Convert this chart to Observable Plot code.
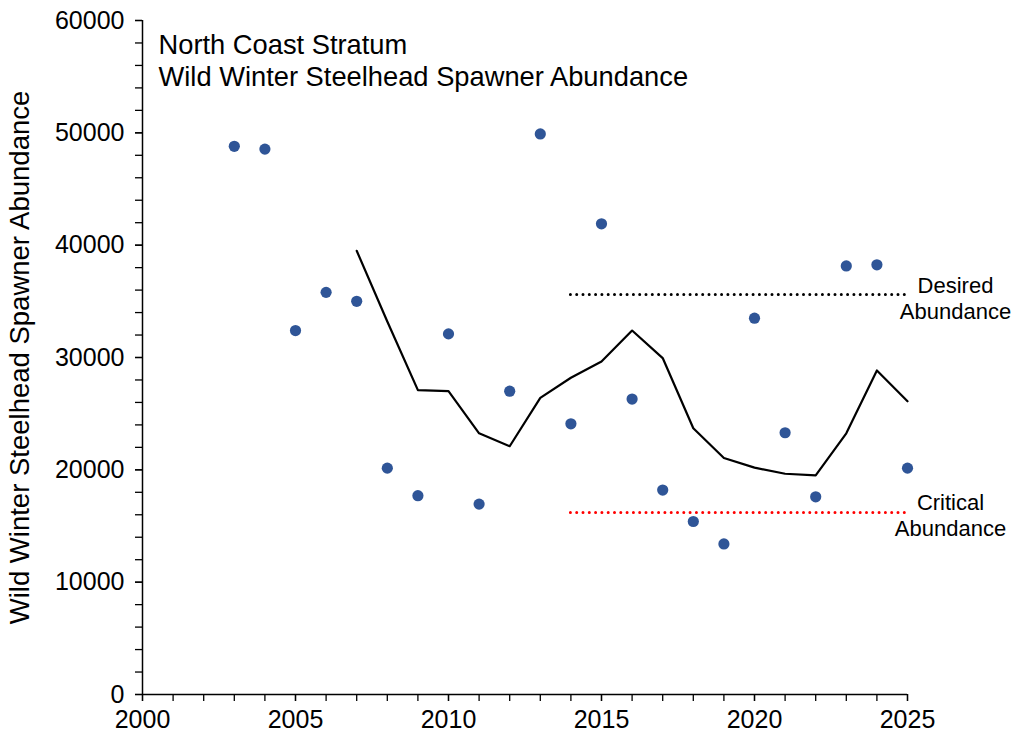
<!DOCTYPE html>
<html>
<head>
<meta charset="utf-8">
<script src="https://cdn.jsdelivr.net/npm/d3@7"></script>
<script src="https://cdn.jsdelivr.net/npm/@observablehq/plot@0.6"></script>
<style>
  html, body { margin: 0; padding: 0; background: #fff; }
  #chart svg { display: block; }
</style>
</head>
<body>
<div id="chart"></div>
<script>
// Data
const years = [2003, 2004, 2005, 2006, 2007, 2008, 2009, 2010, 2011, 2012, 2013, 2014,
               2015, 2016, 2017, 2018, 2019, 2020, 2021, 2022, 2023, 2024, 2025];
const abundance = [48800, 48550, 32400, 35800, 35000, 20150, 17700, 32100, 16950, 27000, 49900, 24100,
                   41900, 26300, 18200, 15400, 13400, 33500, 23300, 17600, 38150, 38250, 20150];

const avgYears = [2007, 2008, 2009, 2010, 2011, 2012, 2013, 2014, 2015, 2016, 2017, 2018,
                  2019, 2020, 2021, 2022, 2023, 2024, 2025];
const avgValues = [39500, 33200, 27100, 27000, 23250, 22100, 26400, 28200, 29650, 32400, 29950, 23700,
                   21050, 20200, 19650, 19500, 23250, 28850, 26100];

const desiredLevel = 35600;
const criticalLevel = 16200;
const refStart = 2014;
const refEnd = 2025;

const xMajorTicks = [2000, 2005, 2010, 2015, 2020, 2025];
const xMinorTicks = d3.range(2000, 2026, 1);
const yMajorTicks = [0, 10000, 20000, 30000, 40000, 50000, 60000];
const yMinorTicks = d3.range(0, 60001, 2000);

const titleLines = "North Coast Stratum\nWild Winter Steelhead Spawner Abundance";
const yLabel = "Wild Winter Steelhead Spawner Abundance";
const desiredLabel = "Desired\nAbundance";
const criticalLabel = "Critical\nAbundance";

const points = years.map((y, i) => ({year: y, value: abundance[i]}));
const avg = avgYears.map((y, i) => ({year: y, value: avgValues[i]}));

const chart = Plot.plot({
  width: 1013,
  height: 741,
  marginLeft: 142,
  marginRight: 106,
  marginTop: 20,
  marginBottom: 47,
  style: {fontFamily: "'Liberation Sans', Arial, sans-serif", fontSize: "25px", color: "#000", background: "#fff"},
  x: {domain: [2000, 2025]},
  y: {domain: [0, 60000]},
  marks: [
    // minor ticks
    Plot.axisX({ticks: xMinorTicks, tickSize: 7, text: null, strokeWidth: 1.3, label: null}),
    Plot.axisY({ticks: yMinorTicks, tickSize: 7, text: null, strokeWidth: 1.3, label: null}),
    // major ticks + labels
    Plot.axisX({ticks: xMajorTicks, tickSize: 7, tickPadding: 9, tickFormat: d => String(d), strokeWidth: 1.3, fontSize: 25, label: null}),
    Plot.axisY({ticks: yMajorTicks, tickSize: 7, tickPadding: 11, tickFormat: d => String(d), strokeWidth: 1.3, fontSize: 25,
      label: null}),
    Plot.axisY({ticks: [], tickSize: 0, text: null, fontSize: 27.5,
      label: yLabel, labelAnchor: "center", labelArrow: "none", labelOffset: 133}),
    // axis lines
    Plot.ruleX([2000], {stroke: "#000", strokeWidth: 1.5}),
    Plot.ruleY([0], {stroke: "#000", strokeWidth: 1.5}),
    // reference levels
    Plot.ruleY([desiredLevel], {x1: refStart, x2: refEnd, stroke: "#000", strokeWidth: 3,
      strokeDasharray: "0 6.3", strokeLinecap: "round"}),
    Plot.ruleY([criticalLevel], {x1: refStart, x2: refEnd, stroke: "#ff0000", strokeWidth: 3,
      strokeDasharray: "0 6.3", strokeLinecap: "round"}),
    Plot.text([desiredLevel], {x: refEnd, y: d => d, text: [desiredLabel], dx: 48, dy: 3, fill: "#000",
      fontSize: 22, lineHeight: 1.18, textAnchor: "middle", lineAnchor: "middle"}),
    Plot.text([criticalLevel], {x: refEnd, y: d => d, text: [criticalLabel], dx: 43, dy: 2, fill: "#000",
      fontSize: 22, lineHeight: 1.18, textAnchor: "middle", lineAnchor: "middle"}),
    // running average line
    Plot.line(avg, {x: "year", y: "value", stroke: "#000", strokeWidth: 2.2}),
    // annual points
    Plot.dot(points, {x: "year", y: "value", r: 5.6, fill: "#2f5597", stroke: "none"}),
    // title in plot
    Plot.text([titleLines], {frameAnchor: "top-left", dx: 16, dy: 11, fontSize: 27.3, lineHeight: 1.17,
      textAnchor: "start", lineAnchor: "top", fill: "#000"})
  ]
});
document.getElementById("chart").appendChild(chart);
</script>
</body>
</html>
